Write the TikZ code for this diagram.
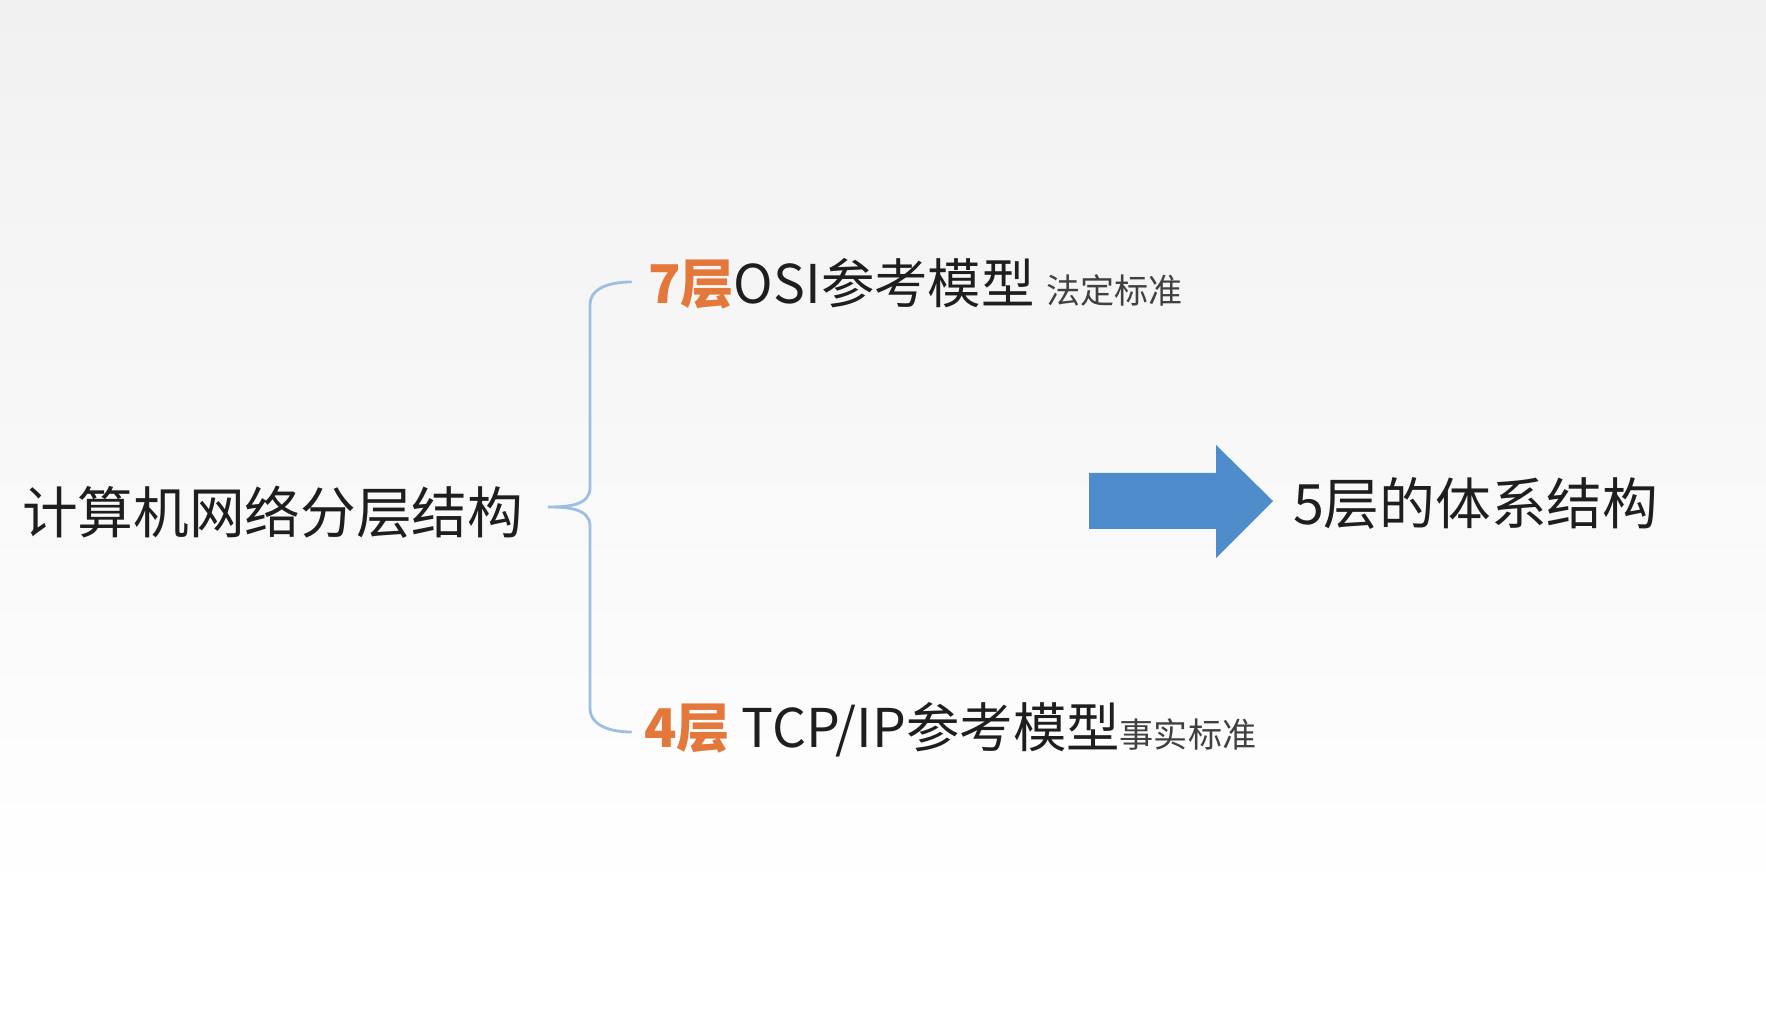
\documentclass[tikz,border=0pt]{standalone}
\usepackage{fontspec}
\newfontfamily\cjk{Noto Sans CJK SC}
\usepackage{xcolor}
\usepackage{tikz}
\usetikzlibrary{positioning,calc}

\definecolor{layerorange}{HTML}{E4783A}
\definecolor{arrowblue}{HTML}{4E8CCB}
\definecolor{bracecol}{HTML}{9FBFE2}
\definecolor{inktext}{HTML}{1E1E1E}

\begin{document}
\begin{tikzpicture}[
    x=0.02cm,y=-0.02cm,
    every node/.style={inner sep=0pt,outer sep=0pt,text=inktext},
    title/.style={font=\cjk\fontsize{31.7}{36}\selectfont,anchor=west},
    model/.style={font=\cjk\fontsize{30.4}{36}\selectfont,anchor=west},
    brace/.style={draw=bracecol,line width=1.6pt,line cap=round}
]
% background
\shade[top color=gray!11,bottom color=white] (0,0) rectangle (1766,900);
\fill[white] (0,900) rectangle (1766,1016);
\useasboundingbox (0,0) rectangle (1766,1016);

\node[title] (root) at (22,512) {计算机网络分层结构};
\node[model] (osi) at (648,284) {\textcolor{layerorange}{\bfseries 7层}OSI参考模型 {\color{black!75}\fontsize{19.4}{24}\selectfont 法定标准}};
\node[model] (tcp) at (644,730) {\textcolor{layerorange}{\bfseries 4层} TCP/IP参考模型{\color{black!75}\fontsize{19.4}{24}\selectfont 事实标准}};
\node[title] (five) at (1293,503) {5层的体系结构};

% brace
\coordinate (tip) at (548,507);
\coordinate (btop) at (631,282);
\coordinate (bbot) at (631,732);
\draw[brace] (btop) to[out=180,in=90] (590,305) -- (590,488)
    to[out=-90,in=0] (tip) to[out=0,in=90] (590,526) -- (590,708)
    to[out=-90,in=180] (bbot);

% block arrow
\coordinate (atip) at (1273,501);
\fill[arrowblue] (1089,473) -- (1216,473) -- (1216,445) -- (atip)
    -- (1216,558) -- (1216,529) -- (1089,529) -- cycle;
\end{tikzpicture}
\end{document}
